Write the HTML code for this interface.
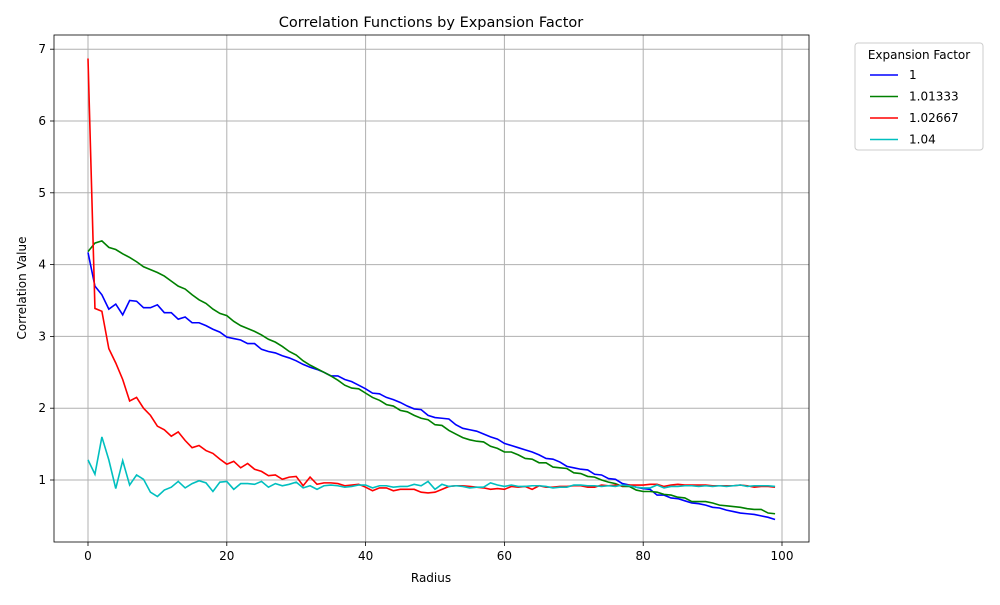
<!DOCTYPE html>
<html><head><meta charset="utf-8"><style>
body{margin:0;background:#fff;font-family:"Liberation Sans","DejaVu Sans",sans-serif}
svg text{font-family:"DejaVu Sans","Liberation Sans",sans-serif}
</style></head><body>
<svg id="chart" width="1000" height="600" xmlns="http://www.w3.org/2000/svg"></svg>
<script>
const radius=[...Array(100).keys()];
const seriesNames=["1","1.01333","1.02667","1.04"];
const seriesColors=["#0000ff","#008000","#ff0000","#00bfbf"];
const s1=[4.17,3.7,3.58,3.38,3.45,3.3,3.5,3.49,3.4,3.4,3.44,3.33,3.33,3.24,3.27,3.19,3.19,3.15,3.1,3.06,2.99,2.97,2.95,2.9,2.9,2.82,2.79,2.77,2.73,2.7,2.66,2.61,2.57,2.54,2.5,2.45,2.45,2.4,2.37,2.32,2.27,2.21,2.2,2.15,2.12,2.08,2.03,1.99,1.98,1.9,1.87,1.86,1.85,1.77,1.72,1.7,1.68,1.64,1.6,1.57,1.51,1.48,1.45,1.42,1.39,1.35,1.3,1.29,1.25,1.19,1.17,1.15,1.14,1.08,1.07,1.02,1.01,0.95,0.93,0.9,0.88,0.87,0.79,0.79,0.75,0.74,0.71,0.68,0.67,0.65,0.62,0.61,0.58,0.56,0.54,0.53,0.52,0.5,0.48,0.45];
const s2=[4.18,4.3,4.33,4.24,4.21,4.15,4.1,4.04,3.97,3.93,3.89,3.84,3.77,3.7,3.66,3.58,3.51,3.46,3.38,3.32,3.29,3.21,3.15,3.11,3.07,3.02,2.96,2.92,2.86,2.79,2.74,2.66,2.6,2.55,2.5,2.45,2.39,2.32,2.28,2.27,2.21,2.15,2.11,2.05,2.03,1.97,1.95,1.9,1.86,1.84,1.77,1.76,1.69,1.64,1.59,1.56,1.54,1.53,1.47,1.44,1.39,1.39,1.35,1.3,1.29,1.24,1.24,1.18,1.17,1.16,1.1,1.09,1.05,1.04,1.0,0.97,0.95,0.91,0.91,0.86,0.84,0.84,0.83,0.8,0.79,0.76,0.75,0.7,0.7,0.7,0.68,0.65,0.64,0.63,0.62,0.6,0.59,0.59,0.54,0.53];
const s3=[6.87,3.39,3.35,2.83,2.63,2.4,2.1,2.15,2.0,1.9,1.75,1.7,1.61,1.67,1.55,1.45,1.48,1.41,1.37,1.29,1.22,1.26,1.17,1.23,1.15,1.12,1.06,1.07,1.01,1.04,1.05,0.92,1.04,0.94,0.96,0.96,0.95,0.92,0.93,0.94,0.9,0.85,0.89,0.89,0.85,0.87,0.87,0.87,0.83,0.82,0.83,0.87,0.91,0.92,0.92,0.91,0.9,0.89,0.87,0.88,0.87,0.91,0.9,0.91,0.87,0.92,0.9,0.9,0.91,0.91,0.92,0.92,0.9,0.9,0.93,0.92,0.93,0.92,0.93,0.93,0.93,0.94,0.94,0.91,0.93,0.94,0.93,0.93,0.93,0.93,0.92,0.92,0.92,0.92,0.93,0.92,0.9,0.91,0.91,0.9];
const s4=[1.28,1.08,1.6,1.28,0.88,1.27,0.93,1.07,1.01,0.83,0.77,0.86,0.9,0.98,0.89,0.95,0.99,0.96,0.84,0.97,0.98,0.87,0.95,0.95,0.94,0.98,0.9,0.95,0.92,0.94,0.97,0.89,0.92,0.87,0.92,0.93,0.92,0.9,0.91,0.93,0.93,0.89,0.92,0.92,0.9,0.91,0.91,0.94,0.92,0.98,0.87,0.94,0.91,0.92,0.91,0.89,0.9,0.9,0.96,0.93,0.91,0.93,0.91,0.91,0.92,0.92,0.91,0.89,0.9,0.9,0.93,0.93,0.92,0.92,0.91,0.92,0.91,0.93,0.92,0.9,0.89,0.89,0.93,0.89,0.91,0.91,0.92,0.92,0.91,0.92,0.91,0.92,0.91,0.92,0.93,0.91,0.92,0.92,0.92,0.91];
const xTicks=[0,20,40,60,80,100];
const yTicks=[1,2,3,4,5,6,7];

const svg=document.getElementById('chart');
const NS="http://www.w3.org/2000/svg";
const L=54,R=809,T=35,B=542;
const xs=v=>88+v*6.94;
const ys=v=>551.8-v*71.8;
function mk(tag,attrs,parent){const e=document.createElementNS(NS,tag);for(const k in attrs)e.setAttribute(k,attrs[k]);(parent||svg).appendChild(e);return e;}

const grid=mk('g',{});


xTicks.forEach(t=>{
  const x=xs(t);
  if(x<=R){mk('line',{x1:x,x2:x,y1:T,y2:B,stroke:'#b0b0b0','stroke-width':1},grid);
  mk('line',{x1:x,x2:x,y1:B,y2:B+4,stroke:'#000','stroke-width':0.8});
  const tx=mk('text',{x:x,y:B+18,'text-anchor':'middle','font-size':12});tx.textContent=t;
  
  }
});
yTicks.forEach(t=>{
  const y=ys(t);
  mk('line',{x1:L,x2:R,y1:y,y2:y,stroke:'#b0b0b0','stroke-width':1},grid);
  mk('line',{x1:L-4,x2:L,y1:y,y2:y,stroke:'#000','stroke-width':0.8});
  const tx=mk('text',{x:L-8,y:y+4,'text-anchor':'end','font-size':12});tx.textContent=t;
  
  
});
[s1,s2,s3,s4].forEach((s,i)=>{
  const p=mk('polyline',{points:s.map((v,j)=>xs(radius[j])+','+ys(v)).join(' '),fill:'none',stroke:seriesColors[i],'stroke-width':1.6});
  
  
});
const frame=mk('rect',{x:L,y:T,width:R-L,height:B-T,fill:'none',stroke:'#000','stroke-width':0.8});


const title=mk('text',{x:431,y:27,'text-anchor':'middle','font-size':14.5});title.textContent='Correlation Functions by Expansion Factor';


const xl=mk('text',{x:431,y:582,'text-anchor':'middle','font-size':12});xl.textContent='Radius';


const yl=mk('text',{x:26,y:288,'text-anchor':'middle','font-size':12,transform:'rotate(-90 26 288)'});yl.textContent='Correlation Value';


const lg=mk('g',{});


mk('rect',{x:855,y:43,width:128,height:107,rx:3,fill:'#fff',stroke:'#ccc'},lg);
const lt=mk('text',{x:919,y:59,'text-anchor':'middle','font-size':12},lg);lt.textContent='Expansion Factor';
seriesNames.forEach((n,i)=>{
  const y=75+i*21.5;
  mk('line',{x1:870,x2:898,y1:y,y2:y,stroke:seriesColors[i],'stroke-width':1.6},lg);
  const t=mk('text',{x:909,y:y+4,'font-size':12},lg);t.textContent=n;
  
  
});
</script>
</body></html>
